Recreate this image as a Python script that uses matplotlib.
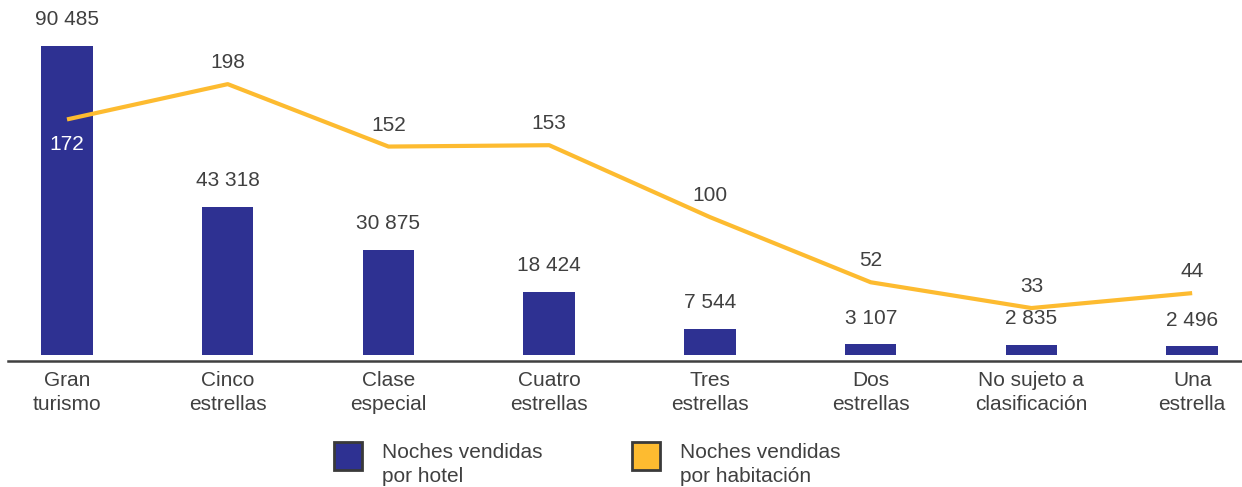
import matplotlib
matplotlib.use("Agg")
import matplotlib.pyplot as plt
import numpy as np
from matplotlib.patches import Rectangle

plt.rcParams["font.family"] = ["Liberation Sans", "DejaVu Sans"]

categories = ["Gran\nturismo", "Cinco\nestrellas", "Clase\nespecial", "Cuatro\nestrellas",
              "Tres\nestrellas", "Dos\nestrellas", "No sujeto a\nclasificación", "Una\nestrella"]
noches_hotel = [90485, 43318, 30875, 18424, 7544, 3107, 2835, 2496]
noches_habitacion = [172, 198, 152, 153, 100, 52, 33, 44]
legend_labels = ["Noches vendidas\npor hotel", "Noches vendidas\npor habitación"]

NAVY = "#2E3192"
GOLD = "#FDBB30"
TXT = "#404040"
FS = 15
LS = 1.36


def fmt(v):
    return f"{v:,}".replace(",", " ")


W, H = 1242, 487
fig = plt.figure(figsize=(W / 100, H / 100), dpi=100)
ax = fig.add_axes([8 / W, 1 - 355 / H, 1 - 8 / W, 355 / H])
x = np.arange(len(categories))

ax.bar(x, noches_hotel, width=0.32, color=NAVY, zorder=2)
ax.set_xlim(-0.367, 7.31)
ax.set_ylim(0, 103950)
for xi, v in zip(x, noches_hotel):
    ax.annotate(fmt(v), (xi, v), xytext=(0, 19), textcoords="offset points",
                ha="center", va="center", fontsize=FS, color=TXT)

ax2 = ax.twinx()
ax2.plot(x, noches_habitacion, color=GOLD, lw=3, zorder=3, solid_capstyle="butt")
ax2.set_ylim(-1.6, 260)
for i, (xi, v) in enumerate(zip(x, noches_habitacion)):
    if i == 0:
        ax2.annotate(str(v), (xi, v), xytext=(0, -18), textcoords="offset points",
                     ha="center", va="center", fontsize=FS, color="white")
    else:
        ax2.annotate(str(v), (xi, v), xytext=(0, 15.5), textcoords="offset points",
                     ha="center", va="center", fontsize=FS, color=TXT)

for a in (ax, ax2):
    for s in ("top", "right", "left"):
        a.spines[s].set_visible(False)
    a.set_yticks([])
ax2.spines["bottom"].set_visible(False)
ax.spines["bottom"].set_color(TXT)
ax.spines["bottom"].set_linewidth(1.8)
ax.spines["bottom"].set_position(("outward", 4.5))
ax.set_xticks(x)
ax.set_xticklabels(categories, fontsize=FS, color=TXT, linespacing=LS)
ax.tick_params(axis="x", length=0, pad=7)

# legend drawn by hand to keep the square swatches where the reference has them
for (x0, lab, col) in [(334, legend_labels[0], NAVY), (632, legend_labels[1], GOLD)]:
    fig.add_artist(Rectangle((x0 / W, 1 - 470 / H), 28 / W, 28 / H,
                             transform=fig.transFigure, facecolor=col,
                             edgecolor="#3a3a3a", lw=2))
    fig.text((x0 + 48) / W, 1 - 443 / H, lab, ha="left", va="top",
             fontsize=FS, color=TXT, linespacing=LS)

fig.savefig("out.png", dpi=100)
